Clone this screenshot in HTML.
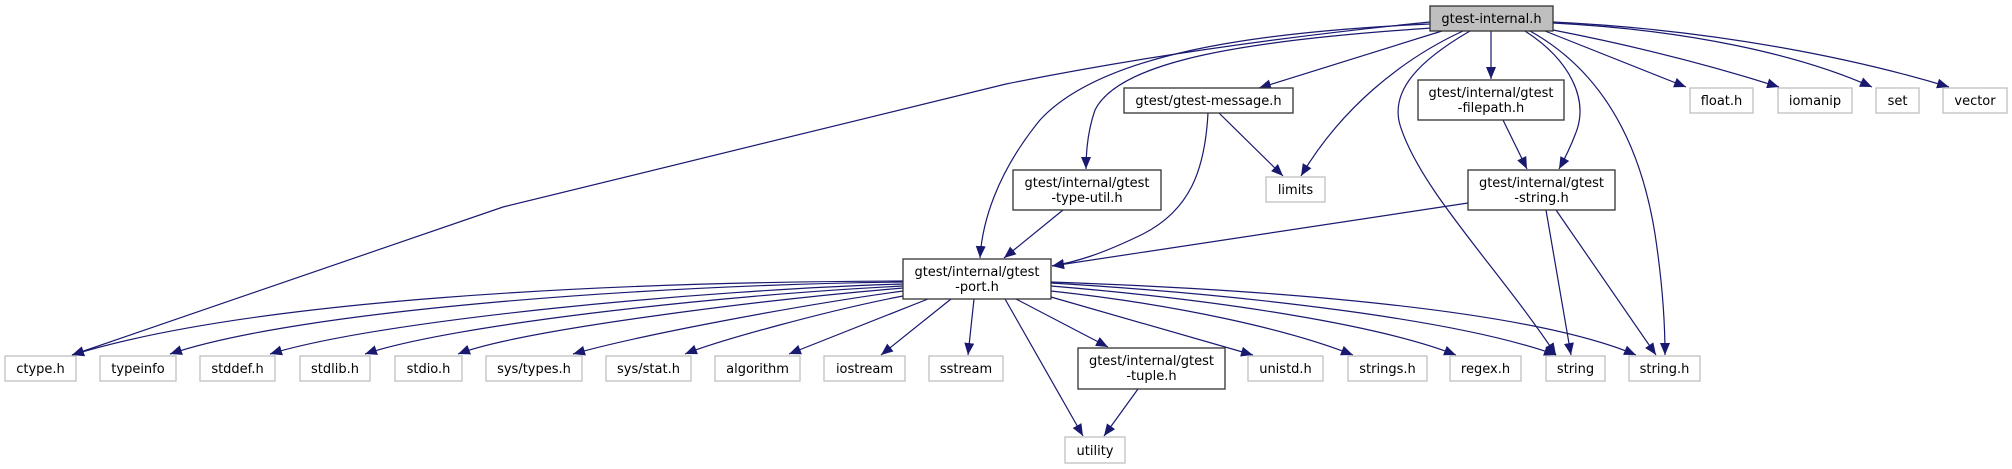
<!DOCTYPE html>
<html><head><meta charset="utf-8"><style>
html,body{margin:0;padding:0;background:#fff;}
svg{display:block;}
text{font-family:"DejaVu Sans","Liberation Sans",sans-serif;font-size:13px;fill:#000;text-anchor:middle;}
.s{fill:#fff;stroke:#bfbfbf;stroke-width:1.3;}
.p{fill:#fff;stroke:#333;stroke-width:1.3;}
.e{fill:none;stroke:#191970;stroke-width:1.2;marker-end:url(#a);}
</style></head><body>
<svg width="2012" height="469" viewBox="0 0 2012 469" xmlns="http://www.w3.org/2000/svg">
<defs><marker id="a" markerUnits="userSpaceOnUse" markerWidth="14" markerHeight="10" refX="12" refY="5" orient="auto"><path d="M0,0 L12,5 L0,10 Z" fill="#191970"/></marker></defs>

<!-- edges from gtest-internal.h -->
<path class="e" d="M1430,22 C1300,35 1150,55 1006,84 L503,207 L72,355"/>
<path class="e" d="M1430,24 C1250,32 1100,55 1040,120 C995,175 982,225 980,258"/>
<path class="e" d="M1432,28 C1250,40 1120,60 1095,110 C1088,130 1086,150 1086,169"/>
<path class="e" d="M1442,31 L1259,88"/>
<path class="e" d="M1463,31 C1400,60 1340,110 1301,176"/>
<path class="e" d="M1470,31 C1420,60 1390,90 1400,125 C1420,190 1500,270 1556,355"/>
<path class="e" d="M1491,31 L1491,79"/>
<path class="e" d="M1525,31 C1570,60 1590,100 1575,135 C1570,148 1564,160 1559,169"/>
<path class="e" d="M1530,31 C1600,70 1640,140 1655,234 C1662,280 1665,320 1665,355"/>
<path class="e" d="M1545,31 L1686,87"/>
<path class="e" d="M1553,30 C1630,45 1710,65 1779,87"/>
<path class="e" d="M1553,23 C1690,30 1800,55 1872,87"/>
<path class="e" d="M1553,22 C1720,30 1860,60 1949,87"/>

<!-- other project edges -->
<path class="e" d="M1503,120 L1527,169"/>
<path class="e" d="M1219,113 L1283,176"/>
<path class="e" d="M1208,113 C1205,170 1190,210 1143,234 C1100,255 1075,262 1052,266"/>
<path class="e" d="M1063,210 L1004,258"/>
<path class="e" d="M1468,203 L1052,266"/>
<path class="e" d="M1546,210 L1571,355"/>
<path class="e" d="M1556,210 L1656,355"/>

<!-- edges from gtest-port.h -->
<path class="e" d="M903,281 C600,282 250,300 72,355"/>
<path class="e" d="M903,282 C650,285 300,310 170,354"/>
<path class="e" d="M903,284 C700,290 380,320 270,354"/>
<path class="e" d="M903,286 C720,295 450,325 365,354"/>
<path class="e" d="M903,288 C760,300 520,330 458,354"/>
<path class="e" d="M903,291 C800,305 640,335 573,354"/>
<path class="e" d="M903,296 C830,310 720,340 685,354"/>
<path class="e" d="M928,299 L789,354"/>
<path class="e" d="M951,299 L881,355"/>
<path class="e" d="M974,299 L968,355"/>
<path class="e" d="M1005,299 L1083,436"/>
<path class="e" d="M1016,299 L1108,347"/>
<path class="e" d="M1051,297 L1253,355"/>
<path class="e" d="M1051,291 C1180,305 1290,330 1353,355"/>
<path class="e" d="M1051,286 C1220,300 1380,325 1456,355"/>
<path class="e" d="M1051,283 C1250,295 1460,320 1556,355"/>
<path class="e" d="M1051,282 C1280,290 1530,310 1636,355"/>
<path class="e" d="M1138,389 L1104,436"/>

<!-- nodes -->
<rect x="1430" y="6" width="123" height="25" fill="#bfbfbf" stroke="#333" stroke-width="1.3"/>
<text x="1491.5" y="23">gtest-internal.h</text>

<rect class="p" x="1124" y="88" width="169" height="25"/><text x="1208.5" y="105">gtest/gtest-message.h</text>
<rect class="p" x="1418" y="80" width="146" height="40"/><text x="1491" y="97">gtest/internal/gtest</text><text x="1491" y="112">-filepath.h</text>
<rect class="p" x="1013" y="170" width="148" height="40"/><text x="1087" y="187">gtest/internal/gtest</text><text x="1087" y="202">-type-util.h</text>
<rect class="s" x="1266" y="177" width="59" height="25"/><text x="1295.5" y="194">limits</text>
<rect class="p" x="1468" y="170" width="147" height="40"/><text x="1541.5" y="187">gtest/internal/gtest</text><text x="1541.5" y="202">-string.h</text>

<rect class="s" x="1690" y="88" width="63" height="25"/><text x="1721.5" y="105">float.h</text>
<rect class="s" x="1778" y="88" width="74" height="25"/><text x="1815" y="105">iomanip</text>
<rect class="s" x="1876" y="88" width="43" height="25"/><text x="1897.5" y="105">set</text>
<rect class="s" x="1943" y="88" width="64" height="25"/><text x="1975" y="105">vector</text>

<rect class="p" x="903" y="259" width="148" height="40"/><text x="977" y="276">gtest/internal/gtest</text><text x="977" y="291">-port.h</text>

<rect class="s" x="5" y="356" width="71" height="25"/><text x="40.5" y="373">ctype.h</text>
<rect class="s" x="100" y="356" width="76" height="25"/><text x="138" y="373">typeinfo</text>
<rect class="s" x="200" y="356" width="75" height="25"/><text x="237.5" y="373">stddef.h</text>
<rect class="s" x="300" y="356" width="70" height="25"/><text x="335" y="373">stdlib.h</text>
<rect class="s" x="395" y="356" width="67" height="25"/><text x="428.5" y="373">stdio.h</text>
<rect class="s" x="486" y="356" width="96" height="25"/><text x="534" y="373">sys/types.h</text>
<rect class="s" x="606" y="356" width="85" height="25"/><text x="648.5" y="373">sys/stat.h</text>
<rect class="s" x="715" y="356" width="85" height="25"/><text x="757.5" y="373">algorithm</text>
<rect class="s" x="824" y="356" width="81" height="25"/><text x="864.5" y="373">iostream</text>
<rect class="s" x="929" y="356" width="74" height="25"/><text x="966" y="373">sstream</text>
<rect class="p" x="1078" y="348" width="147" height="41"/><text x="1151.5" y="365">gtest/internal/gtest</text><text x="1151.5" y="380">-tuple.h</text>
<rect class="s" x="1248" y="356" width="75" height="25"/><text x="1285.5" y="373">unistd.h</text>
<rect class="s" x="1348" y="356" width="79" height="25"/><text x="1387.5" y="373">strings.h</text>
<rect class="s" x="1450" y="356" width="71" height="25"/><text x="1485.5" y="373">regex.h</text>
<rect class="s" x="1546" y="356" width="59" height="25"/><text x="1575.5" y="373">string</text>
<rect class="s" x="1629" y="356" width="71" height="25"/><text x="1664.5" y="373">string.h</text>
<rect class="s" x="1065" y="437" width="60" height="26"/><text x="1095" y="455">utility</text>
</svg>
</body></html>
